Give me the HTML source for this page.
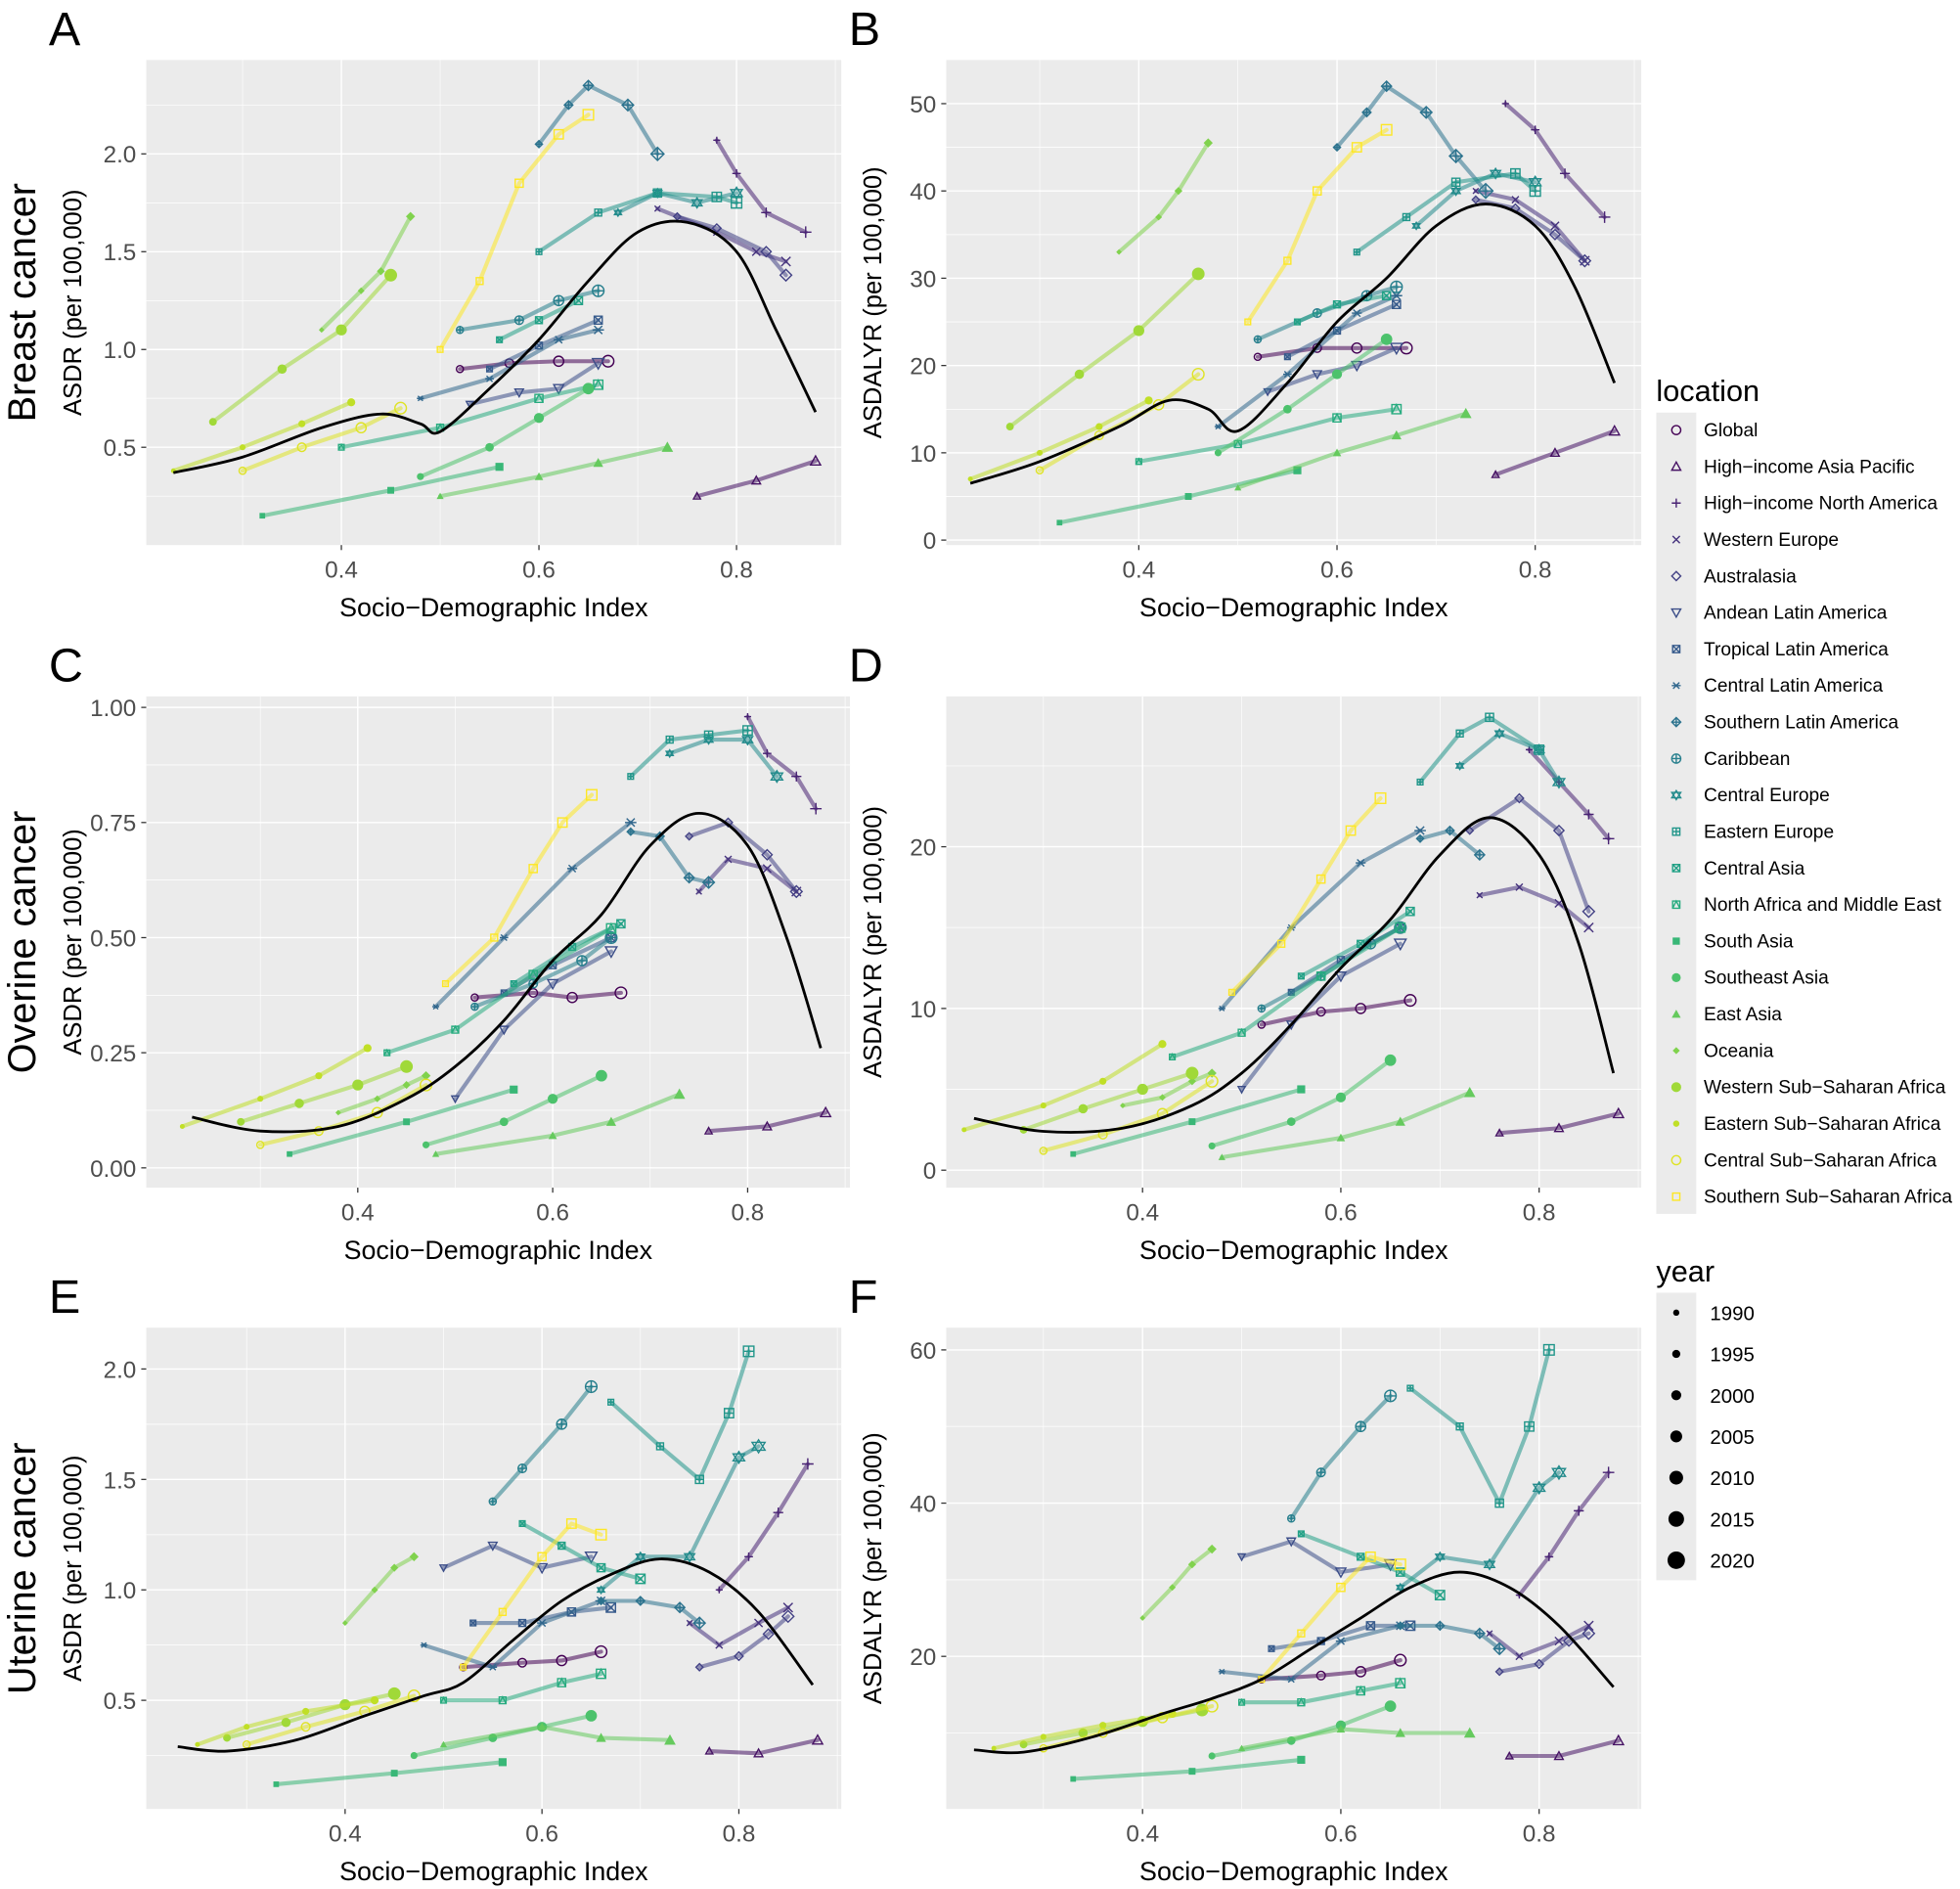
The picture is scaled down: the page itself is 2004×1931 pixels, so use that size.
<!DOCTYPE html>
<html><head><meta charset="utf-8">
<style>
html,body{margin:0;padding:0;background:#fff;}
svg{display:block;font-family:"Liberation Sans",Arial,sans-serif;}
</style></head>
<body>
<svg id="fig" width="2004" height="1931" viewBox="0 0 1568 1511" preserveAspectRatio="none" xmlns="http://www.w3.org/2000/svg"></svg>
<script>
const regions = ["Global","High\u2212income Asia Pacific","High\u2212income North America","Western Europe","Australasia","Andean Latin America","Tropical Latin America","Central Latin America","Southern Latin America","Caribbean","Central Europe","Eastern Europe","Central Asia","North Africa and Middle East","South Asia","Southeast Asia","East Asia","Oceania","Western Sub\u2212Saharan Africa","Eastern Sub\u2212Saharan Africa","Central Sub\u2212Saharan Africa","Southern Sub\u2212Saharan Africa"];
const years = ["1990","1995","2000","2005","2010","2015","2020"];

const breastASDR = [
[[0.52,0.90],[0.57,0.93],[0.62,0.94],[0.67,0.94]],
[[0.76,0.25],[0.82,0.33],[0.88,0.43]],
[[0.78,2.07],[0.80,1.9],[0.83,1.7],[0.87,1.6]],
[[0.72,1.72],[0.78,1.6],[0.82,1.5],[0.85,1.45]],
[[0.74,1.68],[0.78,1.62],[0.83,1.5],[0.85,1.38]],
[[0.53,0.72],[0.58,0.78],[0.62,0.8],[0.66,0.93]],
[[0.55,0.9],[0.6,1.02],[0.66,1.15]],
[[0.48,0.75],[0.55,0.85],[0.62,1.05],[0.66,1.1]],
[[0.60,2.05],[0.63,2.25],[0.65,2.35],[0.69,2.25],[0.72,2.0]],
[[0.52,1.1],[0.58,1.15],[0.62,1.25],[0.66,1.3]],
[[0.68,1.7],[0.72,1.8],[0.76,1.75],[0.80,1.8]],
[[0.60,1.5],[0.66,1.7],[0.72,1.8],[0.78,1.78],[0.80,1.75]],
[[0.56,1.05],[0.60,1.15],[0.64,1.25]],
[[0.40,0.5],[0.5,0.6],[0.6,0.75],[0.66,0.82]],
[[0.32,0.15],[0.45,0.28],[0.56,0.4]],
[[0.48,0.35],[0.55,0.5],[0.6,0.65],[0.65,0.8]],
[[0.5,0.25],[0.6,0.35],[0.66,0.42],[0.73,0.5]],
[[0.38,1.1],[0.42,1.3],[0.44,1.4],[0.47,1.68]],
[[0.27,0.63],[0.34,0.9],[0.40,1.1],[0.45,1.38]],
[[0.23,0.38],[0.3,0.5],[0.36,0.62],[0.41,0.73]],
[[0.30,0.38],[0.36,0.5],[0.42,0.6],[0.46,0.7]],
[[0.50,1.0],[0.54,1.35],[0.58,1.85],[0.62,2.1],[0.65,2.2]]];
const breastASDRfit = [[0.23,0.37],[0.3,0.45],[0.38,0.6],[0.44,0.67],[0.48,0.62],[0.5,0.58],[0.55,0.8],[0.6,1.05],[0.65,1.35],[0.7,1.6],[0.75,1.65],[0.8,1.5],[0.84,1.1],[0.88,0.68]];

const breastDALY = [
[[0.52,21],[0.58,22],[0.62,22],[0.67,22]],
[[0.76,7.5],[0.82,10],[0.88,12.5]],
[[0.77,50],[0.80,47],[0.83,42],[0.87,37]],
[[0.74,40],[0.78,39],[0.82,36],[0.85,32]],
[[0.74,39],[0.78,38],[0.82,35],[0.85,32]],
[[0.53,17],[0.58,19],[0.62,20],[0.66,22]],
[[0.55,21],[0.6,24],[0.66,27]],
[[0.48,13],[0.55,19],[0.62,26],[0.66,28]],
[[0.60,45],[0.63,49],[0.65,52],[0.69,49],[0.72,44],[0.75,40]],
[[0.52,23],[0.58,26],[0.63,28],[0.66,29]],
[[0.68,36],[0.72,40],[0.76,42],[0.80,41]],
[[0.62,33],[0.67,37],[0.72,41],[0.78,42],[0.80,40]],
[[0.56,25],[0.60,27],[0.65,28]],
[[0.40,9],[0.5,11],[0.6,14],[0.66,15]],
[[0.32,2],[0.45,5],[0.56,8]],
[[0.48,10],[0.55,15],[0.6,19],[0.65,23]],
[[0.5,6],[0.6,10],[0.66,12],[0.73,14.5]],
[[0.38,33],[0.42,37],[0.44,40],[0.47,45.5]],
[[0.27,13],[0.34,19],[0.40,24],[0.46,30.5]],
[[0.23,7],[0.3,10],[0.36,13],[0.41,16]],
[[0.30,8],[0.36,12],[0.42,15.5],[0.46,19]],
[[0.51,25],[0.55,32],[0.58,40],[0.62,45],[0.65,47]]];
const breastDALYfit = [[0.23,6.5],[0.3,9],[0.38,13],[0.43,16],[0.47,15],[0.5,12.5],[0.55,18],[0.6,25],[0.65,30],[0.7,36],[0.75,38.5],[0.8,36],[0.84,29],[0.88,18]];

const ovarianASDR = [
[[0.52,0.37],[0.58,0.38],[0.62,0.37],[0.67,0.38]],
[[0.76,0.08],[0.82,0.09],[0.88,0.12]],
[[0.80,0.98],[0.82,0.9],[0.85,0.85],[0.87,0.78]],
[[0.75,0.6],[0.78,0.67],[0.82,0.65],[0.85,0.6]],
[[0.74,0.72],[0.78,0.75],[0.82,0.68],[0.85,0.6]],
[[0.5,0.15],[0.55,0.3],[0.6,0.4],[0.66,0.47]],
[[0.55,0.38],[0.6,0.44],[0.66,0.5]],
[[0.48,0.35],[0.55,0.5],[0.62,0.65],[0.68,0.75]],
[[0.68,0.73],[0.71,0.72],[0.74,0.63],[0.76,0.62]],
[[0.52,0.35],[0.58,0.4],[0.63,0.45],[0.66,0.5]],
[[0.72,0.9],[0.76,0.93],[0.80,0.93],[0.83,0.85]],
[[0.68,0.85],[0.72,0.93],[0.76,0.94],[0.80,0.95]],
[[0.56,0.4],[0.62,0.48],[0.67,0.53]],
[[0.43,0.25],[0.5,0.3],[0.58,0.42],[0.66,0.52]],
[[0.33,0.03],[0.45,0.1],[0.56,0.17]],
[[0.47,0.05],[0.55,0.1],[0.6,0.15],[0.65,0.2]],
[[0.48,0.03],[0.6,0.07],[0.66,0.1],[0.73,0.16]],
[[0.38,0.12],[0.42,0.15],[0.45,0.18],[0.47,0.2]],
[[0.28,0.1],[0.34,0.14],[0.40,0.18],[0.45,0.22]],
[[0.22,0.09],[0.3,0.15],[0.36,0.2],[0.41,0.26]],
[[0.30,0.05],[0.36,0.08],[0.42,0.12],[0.47,0.18]],
[[0.49,0.4],[0.54,0.5],[0.58,0.65],[0.61,0.75],[0.64,0.81]]];
const ovarianASDRfit = [[0.23,0.11],[0.3,0.08],[0.38,0.09],[0.45,0.15],[0.5,0.22],[0.55,0.32],[0.6,0.45],[0.65,0.55],[0.7,0.7],[0.75,0.77],[0.8,0.7],[0.84,0.5],[0.875,0.26]];

const ovarianDALY = [
[[0.52,9],[0.58,9.8],[0.62,10],[0.67,10.5]],
[[0.76,2.3],[0.82,2.6],[0.88,3.5]],
[[0.79,26],[0.82,24],[0.85,22],[0.87,20.5]],
[[0.74,17],[0.78,17.5],[0.82,16.5],[0.85,15]],
[[0.73,21],[0.78,23],[0.82,21],[0.85,16]],
[[0.5,5],[0.55,9],[0.6,12],[0.66,14]],
[[0.55,11],[0.6,13],[0.66,15]],
[[0.48,10],[0.55,15],[0.62,19],[0.68,21]],
[[0.68,20.5],[0.71,21],[0.74,19.5]],
[[0.52,10],[0.58,12],[0.63,14],[0.66,15]],
[[0.72,25],[0.76,27],[0.80,26],[0.82,24]],
[[0.68,24],[0.72,27],[0.75,28],[0.80,26]],
[[0.56,12],[0.62,14],[0.67,16]],
[[0.43,7],[0.5,8.5],[0.58,12],[0.66,15]],
[[0.33,1],[0.45,3],[0.56,5]],
[[0.47,1.5],[0.55,3],[0.6,4.5],[0.65,6.8]],
[[0.48,0.8],[0.6,2],[0.66,3],[0.73,4.8]],
[[0.38,4],[0.42,4.5],[0.45,5.5],[0.47,6]],
[[0.28,2.5],[0.34,3.8],[0.40,5],[0.45,6]],
[[0.22,2.5],[0.3,4],[0.36,5.5],[0.42,7.8]],
[[0.30,1.2],[0.36,2.2],[0.42,3.5],[0.47,5.5]],
[[0.49,11],[0.54,14],[0.58,18],[0.61,21],[0.64,23]]];
const ovarianDALYfit = [[0.23,3.2],[0.3,2.4],[0.38,2.6],[0.45,4],[0.5,6],[0.55,9],[0.6,12.5],[0.65,15.5],[0.7,19.5],[0.75,21.8],[0.8,19.5],[0.84,14],[0.875,6]];

const uterineASDR = [
[[0.52,0.65],[0.58,0.67],[0.62,0.68],[0.66,0.72]],
[[0.77,0.27],[0.82,0.26],[0.88,0.32]],
[[0.78,1.0],[0.81,1.15],[0.84,1.35],[0.87,1.57]],
[[0.75,0.85],[0.78,0.75],[0.82,0.85],[0.85,0.92]],
[[0.76,0.65],[0.8,0.7],[0.83,0.8],[0.85,0.88]],
[[0.5,1.1],[0.55,1.2],[0.6,1.1],[0.65,1.15]],
[[0.53,0.85],[0.58,0.85],[0.63,0.9],[0.67,0.92]],
[[0.48,0.75],[0.55,0.65],[0.6,0.85],[0.66,0.95]],
[[0.66,0.95],[0.7,0.95],[0.74,0.92],[0.76,0.85]],
[[0.55,1.4],[0.58,1.55],[0.62,1.75],[0.65,1.92]],
[[0.66,1.0],[0.7,1.15],[0.75,1.15],[0.8,1.6],[0.82,1.65]],
[[0.67,1.85],[0.72,1.65],[0.76,1.5],[0.79,1.8],[0.81,2.08]],
[[0.58,1.3],[0.62,1.2],[0.66,1.1],[0.7,1.05]],
[[0.5,0.5],[0.56,0.5],[0.62,0.58],[0.66,0.62]],
[[0.33,0.12],[0.45,0.17],[0.56,0.22]],
[[0.47,0.25],[0.55,0.33],[0.6,0.38],[0.65,0.43]],
[[0.5,0.3],[0.6,0.38],[0.66,0.33],[0.73,0.32]],
[[0.40,0.85],[0.43,1.0],[0.45,1.1],[0.47,1.15]],
[[0.28,0.33],[0.34,0.4],[0.40,0.48],[0.45,0.53]],
[[0.25,0.3],[0.3,0.38],[0.36,0.45],[0.43,0.5]],
[[0.30,0.3],[0.36,0.38],[0.42,0.45],[0.47,0.52]],
[[0.52,0.65],[0.56,0.9],[0.6,1.15],[0.63,1.3],[0.66,1.25]]];
const uterineASDRfit = [[0.23,0.29],[0.28,0.27],[0.35,0.32],[0.42,0.43],[0.48,0.52],[0.52,0.58],[0.57,0.77],[0.62,0.95],[0.67,1.07],[0.72,1.14],[0.77,1.08],[0.82,0.9],[0.875,0.57]];

const uterineDALY = [
[[0.52,17],[0.58,17.5],[0.62,18],[0.66,19.5]],
[[0.77,7],[0.82,7],[0.88,9]],
[[0.78,28],[0.81,33],[0.84,39],[0.87,44]],
[[0.75,23],[0.78,20],[0.82,22],[0.85,24]],
[[0.76,18],[0.8,19],[0.83,22],[0.85,23]],
[[0.5,33],[0.55,35],[0.6,31],[0.65,32]],
[[0.53,21],[0.58,22],[0.63,24],[0.67,24]],
[[0.48,18],[0.55,17],[0.6,22],[0.66,24]],
[[0.66,24],[0.7,24],[0.74,23],[0.76,21]],
[[0.55,38],[0.58,44],[0.62,50],[0.65,54]],
[[0.66,29],[0.7,33],[0.75,32],[0.8,42],[0.82,44]],
[[0.67,55],[0.72,50],[0.76,40],[0.79,50],[0.81,60]],
[[0.56,36],[0.62,33],[0.66,31],[0.7,28]],
[[0.5,14],[0.56,14],[0.62,15.5],[0.66,16.5]],
[[0.33,4],[0.45,5],[0.56,6.5]],
[[0.47,7],[0.55,9],[0.6,11],[0.65,13.5]],
[[0.5,8],[0.6,10.5],[0.66,10],[0.73,10]],
[[0.40,25],[0.43,29],[0.45,32],[0.47,34]],
[[0.28,8.5],[0.34,10],[0.40,11.5],[0.46,13]],
[[0.25,8],[0.3,9.5],[0.36,11],[0.43,12.5]],
[[0.30,8],[0.36,10],[0.42,12],[0.47,13.5]],
[[0.52,17],[0.56,23],[0.6,29],[0.63,33],[0.66,32]]];
const uterineDALYfit = [[0.23,7.8],[0.28,7.5],[0.35,9.5],[0.42,12.5],[0.47,14.5],[0.52,17],[0.57,21],[0.62,25],[0.67,29],[0.72,31],[0.77,29],[0.82,24],[0.875,16]];

const xTicks = [0.4,0.6,0.8];
const xTickLabels = ["0.4","0.6","0.8"];
const yTicksASDR = [0.5,1.0,1.5,2.0];
const yTickLabelsASDR = ["0.5","1.0","1.5","2.0"];
const yTicksBreastDALY = [0,10,20,30,40,50];
const yTickLabelsBreastDALY = ["0","10","20","30","40","50"];
const yTicksOvarianASDR = [0,0.25,0.5,0.75,1.0];
const yTickLabelsOvarianASDR = ["0.00","0.25","0.50","0.75","1.00"];
const yTicksOvarianDALY = [0,10,20];
const yTickLabelsOvarianDALY = ["0","10","20"];
const yTicksUterineDALY = [20,40,60];
const yTickLabelsUterineDALY = ["20","40","60"];

const NS="http://www.w3.org/2000/svg";
const svg=document.getElementById('fig');
function mk(tag,attrs,parent){const e=document.createElementNS(NS,tag);for(const k in attrs)e.setAttribute(k,attrs[k]);(parent||svg).appendChild(e);return e;}
function viridis(t){const s=[[68,1,84],[72,36,117],[65,68,135],[53,95,141],[42,120,142],[33,145,140],[34,168,132],[68,191,112],[122,209,81],[189,223,38],[253,231,37]];const p=t*(s.length-1);const i=Math.min(Math.floor(p),s.length-2);const f=p-i;const c=s[i].map((v,k)=>Math.round(v+(s[i+1][k]-v)*f));return `rgb(${c[0]},${c[1]},${c[2]})`;}
const colors=regions.map((r,i)=>viridis(i/21));
function smoothPath(P){
  if(P.length<3) return 'M'+P.map(p=>p[0]+' '+p[1]).join('L');
  let d='M'+P[0][0]+' '+P[0][1];
  for(let i=0;i<P.length-1;i++){
    const p0=P[Math.max(i-1,0)],p1=P[i],p2=P[i+1],p3=P[Math.min(i+2,P.length-1)];
    const c1=[p1[0]+(p2[0]-p0[0])/6,p1[1]+(p2[1]-p0[1])/6];
    const c2=[p2[0]-(p3[0]-p1[0])/6,p2[1]-(p3[1]-p1[1])/6];
    d+=`C${c1[0]} ${c1[1]} ${c2[0]} ${c2[1]} ${p2[0]} ${p2[1]}`;
  }
  return d;
}

function marker(g,shape,x,y,r,col){
  const sw=1.1;
  const o={fill:'none',stroke:col,'stroke-width':sw};
  const tri=(dy)=>mk('polygon',Object.assign({points:`${x-r},${y+r*0.8*dy} ${x+r},${y+r*0.8*dy} ${x},${y-r*dy}`},o),g);
  switch(shape){
    case 0: return mk('circle',Object.assign({cx:x,cy:y,r:r},o),g);
    case 1: return tri(1);
    case 2: return mk('path',Object.assign({d:`M${x-r} ${y}H${x+r}M${x} ${y-r}V${y+r}`},o),g);
    case 3: return mk('path',Object.assign({d:`M${x-r*0.8} ${y-r*0.8}L${x+r*0.8} ${y+r*0.8}M${x-r*0.8} ${y+r*0.8}L${x+r*0.8} ${y-r*0.8}`},o),g);
    case 4: return mk('polygon',Object.assign({points:`${x},${y-r} ${x+r},${y} ${x},${y+r} ${x-r},${y}`},o),g);
    case 5: return tri(-1);
    case 6: return mk('path',Object.assign({d:`M${x-r*0.8} ${y-r*0.8}h${r*1.6}v${r*1.6}h${-r*1.6}zM${x-r*0.8} ${y-r*0.8}L${x+r*0.8} ${y+r*0.8}M${x-r*0.8} ${y+r*0.8}L${x+r*0.8} ${y-r*0.8}`},o),g);
    case 7: return mk('path',Object.assign({d:`M${x-r} ${y}H${x+r}M${x-r*0.7} ${y-r*0.7}L${x+r*0.7} ${y+r*0.7}M${x-r*0.7} ${y+r*0.7}L${x+r*0.7} ${y-r*0.7}`},o),g);
    case 8: return mk('path',Object.assign({d:`M${x} ${y-r}L${x+r} ${y}L${x} ${y+r}L${x-r} ${y}zM${x-r} ${y}H${x+r}M${x} ${y-r}V${y+r}`},o),g);
    case 9: return mk('path',Object.assign({d:`M${x-r} ${y}a${r} ${r} 0 1 0 ${2*r} 0a${r} ${r} 0 1 0 ${-2*r} 0M${x-r} ${y}H${x+r}M${x} ${y-r}V${y+r}`},o),g);
    case 10: return mk('path',Object.assign({d:`M${x-r} ${y+r*0.6}H${x+r}L${x} ${y-r}zM${x-r} ${y-r*0.6}H${x+r}L${x} ${y+r}z`},o),g);
    case 11: return mk('path',Object.assign({d:`M${x-r*0.8} ${y-r*0.8}h${r*1.6}v${r*1.6}h${-r*1.6}zM${x-r*0.8} ${y}H${x+r*0.8}M${x} ${y-r*0.8}V${y+r*0.8}`},o),g);
    case 12: return mk('path',Object.assign({d:`M${x-r*0.8} ${y-r*0.8}h${r*1.6}v${r*1.6}h${-r*1.6}zM${x-r*0.8} ${y-r*0.8}L${x+r*0.8} ${y+r*0.8}M${x-r*0.8} ${y+r*0.8}L${x+r*0.8} ${y-r*0.8}`},o),g);
    case 13: return mk('path',Object.assign({d:`M${x-r*0.8} ${y-r*0.8}h${r*1.6}v${r*1.6}h${-r*1.6}zM${x-r*0.8} ${y+r*0.8}L${x} ${y-r*0.8}L${x+r*0.8} ${y+r*0.8}`},o),g);
    case 14: return mk('rect',{x:x-r*0.8,y:y-r*0.8,width:r*1.6,height:r*1.6,fill:col},g);
    case 15: return mk('circle',{cx:x,cy:y,r:r,fill:col},g);
    case 16: return mk('polygon',{points:`${x-r},${y+r*0.8} ${x+r},${y+r*0.8} ${x},${y-r}`,fill:col},g);
    case 17: return mk('polygon',{points:`${x},${y-r*0.8} ${x+r*0.8},${y} ${x},${y+r*0.8} ${x-r*0.8},${y}`,fill:col},g);
    case 18: return mk('circle',{cx:x,cy:y,r:r*1.1,fill:col},g);
    case 19: return mk('circle',{cx:x,cy:y,r:r*0.7,fill:col},g);
    case 20: return mk('circle',Object.assign({cx:x,cy:y,r:r},o),g);
    default: return mk('rect',Object.assign({x:x-r*0.8,y:y-r*0.8,width:r*1.6,height:r*1.6},o),g);
  }
}

const panels=[
 {id:'a',letter:'A',L:117,T:48,R:673,B:436,xd:[0.2025,0.906],yd:[0.0,2.48],yt:yTicksASDR,yl:yTickLabelsASDR,ytitle:'ASDR (per 100,000)',data:breastASDR,fit:breastASDRfit,row:'Breast cancer'},
 {id:'b',letter:'B',L:757,T:48,R:1313,B:436,xd:[0.2057,0.907],yd:[-0.57,55.0],yt:yTicksBreastDALY,yl:yTickLabelsBreastDALY,ytitle:'ASDALYR (per 100,000)',data:breastDALY,fit:breastDALYfit},
 {id:'c',letter:'C',L:117,T:557,R:680,B:950,xd:[0.183,0.905],yd:[-0.043,1.024],yt:yTicksOvarianASDR,yl:yTickLabelsOvarianASDR,ytitle:'ASDR (per 100,000)',data:ovarianASDR,fit:ovarianASDRfit,row:'Overine cancer'},
 {id:'d',letter:'D',L:757,T:557,R:1313,B:950,xd:[0.202,0.903],yd:[-1.08,29.3],yt:yTicksOvarianDALY,yl:yTickLabelsOvarianDALY,ytitle:'ASDALYR (per 100,000)',data:ovarianDALY,fit:ovarianDALYfit},
 {id:'e',letter:'E',L:117,T:1062,R:673,B:1447,xd:[0.198,0.904],yd:[0.008,2.187],yt:yTicksASDR,yl:yTickLabelsASDR,ytitle:'ASDR (per 100,000)',data:uterineASDR,fit:uterineASDRfit,row:'Uterine cancer'},
 {id:'f',letter:'F',L:757,T:1062,R:1313,B:1447,xd:[0.202,0.903],yd:[0.08,62.9],yt:yTicksUterineDALY,yl:yTickLabelsUterineDALY,ytitle:'ASDALYR (per 100,000)',data:uterineDALY,fit:uterineDALYfit}
];

panels.forEach(p=>{
  const g=mk('g',{});
  
  
  const sx=v=>p.L+(v-p.xd[0])/(p.xd[1]-p.xd[0])*(p.R-p.L);
  const sy=v=>p.B-(v-p.yd[0])/(p.yd[1]-p.yd[0])*(p.B-p.T);
  const bg=mk('rect',{x:p.L,y:p.T,width:p.R-p.L,height:p.B-p.T,fill:'#ebebeb'},g);
  
  
  const xs=[0.3,0.5,0.7,0.9].filter(v=>v>p.xd[0]&&v<p.xd[1]);
  xs.forEach(v=>mk('line',{x1:sx(v),x2:sx(v),y1:p.T,y2:p.B,stroke:'#fff','stroke-width':0.5},g));
  for(let i=0;i<p.yt.length;i++){
    const step=p.yt.length>1?p.yt[1]-p.yt[0]:1;
    [p.yt[i]-step/2,p.yt[i]+step/2].forEach(v=>{if(v>p.yd[0]&&v<p.yd[1])mk('line',{x1:p.L,x2:p.R,y1:sy(v),y2:sy(v),stroke:'#fff','stroke-width':0.5},g);});
  }
  xTicks.forEach((v,i)=>{
    mk('line',{x1:sx(v),x2:sx(v),y1:p.T,y2:p.B,stroke:'#fff','stroke-width':1.1},g);
    mk('line',{x1:sx(v),x2:sx(v),y1:p.B,y2:p.B+4,stroke:'#333','stroke-width':1},g);
    const t=mk('text',{x:sx(v),y:p.B+26,'text-anchor':'middle','font-size':19,fill:'#4d4d4d'},g);
    t.textContent=xTickLabels[i];
    
    
  });
  p.yt.forEach((v,i)=>{
    mk('line',{x1:p.L,x2:p.R,y1:sy(v),y2:sy(v),stroke:'#fff','stroke-width':1.1},g);
    mk('line',{x1:p.L-4,x2:p.L,y1:sy(v),y2:sy(v),stroke:'#333','stroke-width':1},g);
    const t=mk('text',{x:p.L-8,y:sy(v)+7,'text-anchor':'end','font-size':19,fill:'#4d4d4d'},g);
    t.textContent=p.yl[i];
    
    
  });
  p.data.forEach((pts,ri)=>{
    const sg=mk('g',{},g);
    
    
    const col=colors[ri];
    mk('polyline',{points:pts.map(q=>sx(q[0])+','+sy(q[1])).join(' '),fill:'none',stroke:col,'stroke-width':3.2,'stroke-opacity':0.55,'stroke-linejoin':'round','stroke-linecap':'round'},sg);
    pts.forEach((q,k)=>{
      const m=marker(sg,ri,sx(q[0]),sy(q[1]),2.8+k*0.6,col);
      
      
    });
  });
  const fit=mk('path',{d:smoothPath(p.fit.map(q=>[sx(q[0]),sy(q[1])])),fill:'none',stroke:'#000','stroke-width':2.2,'stroke-linejoin':'round'},g);
  
  
  const lt=mk('text',{x:p.L-78,y:p.T-12,'font-size':38,fill:'#000'},g);
  lt.textContent=p.letter;
  
  
  const cx=(p.L+p.R)/2;
  const xt=mk('text',{x:cx,y:p.B+57,'text-anchor':'middle','font-size':21,fill:'#000'},g);
  xt.textContent='Socio\u2212Demographic Index';
  
  
  const cy=(p.T+p.B)/2;
  const ytx=p.L-52;
  const yt=mk('text',{x:ytx,y:cy,'text-anchor':'middle','font-size':20,fill:'#000',transform:`rotate(-90 ${ytx} ${cy})`},g);
  yt.textContent=p.ytitle;
  
  
  if(p.row){
    const rt=mk('text',{x:28,y:cy,'text-anchor':'middle','font-size':31,fill:'#000',transform:`rotate(-90 28 ${cy})`},g);
    rt.textContent=p.row;
    
    
  }
});

const lg=mk('g',{});


const lt=mk('text',{x:1325,y:321,'font-size':24,fill:'#000'},lg);
lt.textContent='location';


mk('rect',{x:1325,y:330,width:32,height:641,fill:'#ebebeb'},lg);
regions.forEach((r,i)=>{
  const y=344+i*29.2;
  const eg=mk('g',{},lg);
  
  
  marker(eg,i,1341,y,3.6,colors[i]);
  const t=mk('text',{x:1363,y:y+5,'font-size':15,fill:'#000'},eg);
  t.textContent=r;
});
const yg=mk('g',{});


const yt2=mk('text',{x:1325,y:1025,'font-size':24,fill:'#000'},yg);
yt2.textContent='year';


mk('rect',{x:1325,y:1034,width:32,height:230,fill:'#ebebeb'},yg);
years.forEach((yr,i)=>{
  const y=1050+i*33;
  const eg=mk('g',{},yg);
  
  
  mk('circle',{cx:1341,cy:y,r:2.5+i*0.75,fill:'#000'},eg);
  const t=mk('text',{x:1368,y:y+6,'font-size':16,fill:'#000'},eg);
  t.textContent=yr;
});
</script>
</body></html>
